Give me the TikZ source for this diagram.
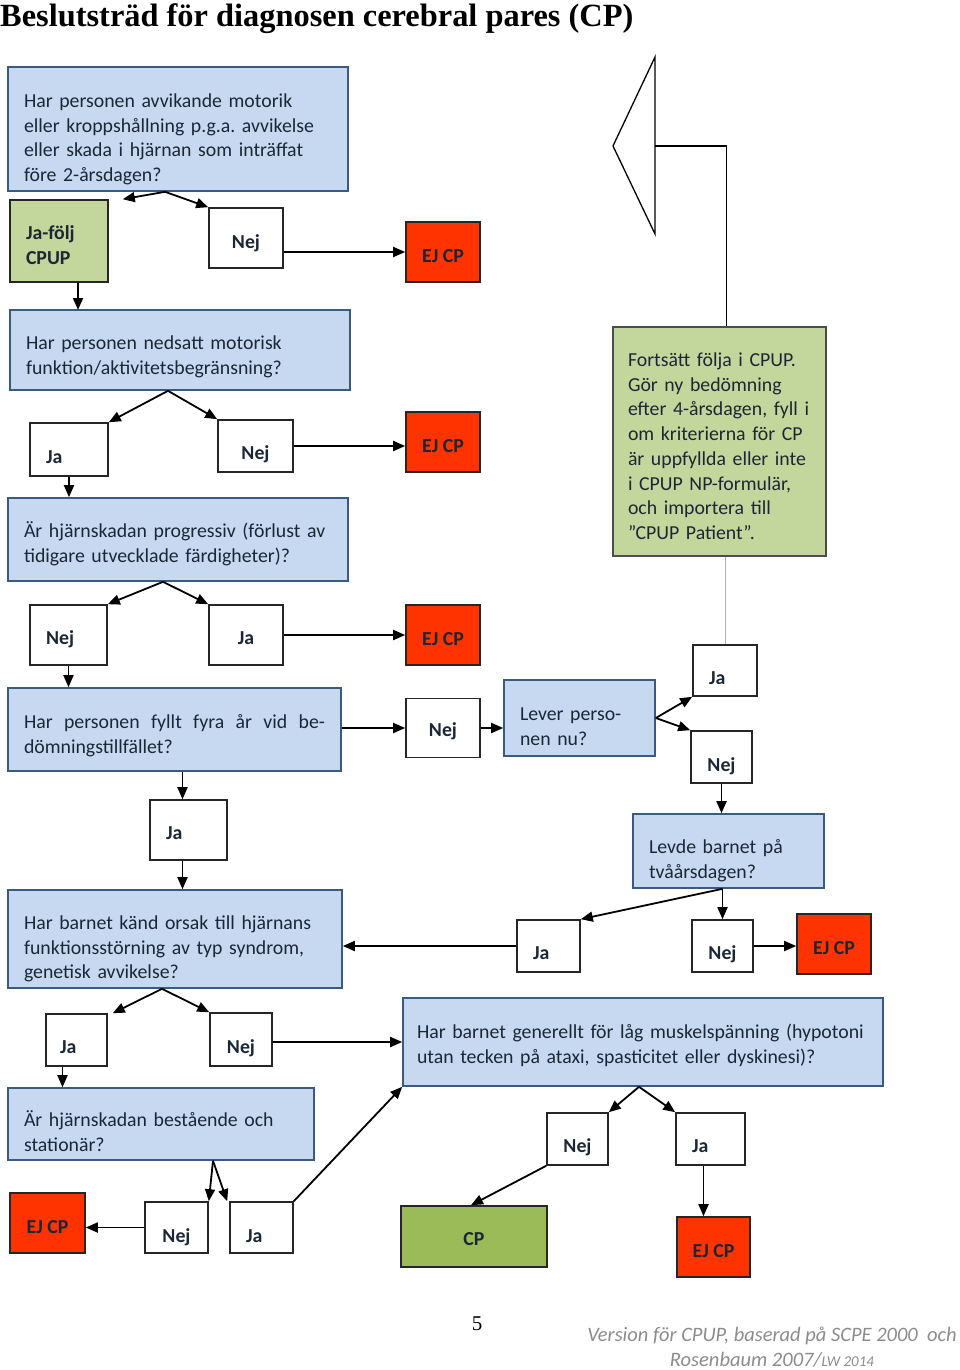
\documentclass[tikz,border=0pt]{standalone}
\usepackage{fontspec}
\setmainfont{Carlito}
\newfontfamily\titlefont{Liberation Serif}
\usetikzlibrary{arrows.meta}
\frenchspacing

\definecolor{qfill}{HTML}{C6D9F1}
\definecolor{qline}{HTML}{3A5A80}
\definecolor{ejfill}{HTML}{FF3300}
\definecolor{lightgreen}{HTML}{C3D69B}
\definecolor{cpgreen}{HTML}{9BBB59}
\definecolor{footgray}{HTML}{8C8C8C}
\definecolor{boxtext}{HTML}{1C2736}

\tikzset{
  base/.style={font=\fontsize{19.8}{24.7}\selectfont, text=boxtext, line width=1.6pt, inner sep=0pt},
  question/.style={base, draw=qline, fill=qfill, align=left, inner xsep=16pt, text height=10pt},
  answer/.style={base, draw=black!85, fill=white, font=\fontsize{19.8}{24.7}\selectfont\bfseries, text height=27pt, text depth=0pt},
  lefty/.style={align=left, inner xsep=16pt},
  ejcp/.style={answer, fill=ejfill, text height=20pt},
  conn/.style={-{Triangle[length=12pt,width=10pt]}, line width=1.8pt},
}

\begin{document}
\begin{tikzpicture}[x=1pt,y=-1pt]
      \useasboundingbox (0,0) rectangle (960,1370);
      % \draw[help lines,step=50](0,0) grid (960,1370);

      \node[anchor=base west, inner sep=0pt, font=\titlefont\fontsize{32.4}{36}\selectfont\bfseries] (title) at (0,27) {Beslutsträd för diagnosen cerebral pares (CP)};

      % first question
      \node[question, text width=308, minimum height=124, text depth=53pt] (q1) at (178,129) {Har personen avvikande motorik\\eller kroppshållning p.g.a. avvikelse\\eller skada i hjärnan som inträffat\\före 2-årsdagen?};
      \node[answer, lefty, fill=lightgreen, text width=66, minimum height=82, text height=13pt, text depth=16pt] (jafolj) at (59,241) {Ja-följ\\CPUP};
      \node[answer, minimum width=74, minimum height=60, text height=21pt] (nej1) at (246,238) {Nej};
      \node[ejcp, minimum width=74, minimum height=60] (ejcp1) at (443,252) {EJ CP};

      \draw[conn] ([xshift=-13]q1.south) -- ([xshift=14]jafolj.north east);
      \draw[conn] ([xshift=-13]q1.south) -- (nej1.north west);
      \draw[conn] (nej1.east |- ejcp1.west) -- (ejcp1.west);
      \draw[conn] ([xshift=19]jafolj.south) -- ([xshift=19]jafolj.south |- 0,310);

      % second question
      \node[question, text width=308, minimum height=80, text depth=11pt] (q2) at (180,350) {Har personen nedsatt motorisk\\funktion/aktivitetsbegränsning?};
      \node[answer, lefty, text width=46, minimum height=53] (ja2) at (69,449.5) {Ja};
      \node[answer, minimum width=75, minimum height=52] (nej2) at (255.5,446) {Nej};
      \node[ejcp, minimum width=74, minimum height=60] (ejcp2) at (443,442) {EJ CP};

      \draw[conn] ([xshift=-12]q2.south) -- (ja2.north east);
      \draw[conn] ([xshift=-12]q2.south) -- (nej2.north west);
      \draw[conn] (nej2.east) -- (nej2.east -| ejcp2.west);

      % third question
      \node[question, text width=308, minimum height=83, text depth=14pt] (q3) at (178,539.5) {Är hjärnskadan progressiv (förlust av\\tidigare utvecklade färdigheter)?};
      \draw[conn] (ja2.south) -- (ja2.south |- q3.north);

      \node[answer, lefty, text width=45, minimum height=60, text height=19pt] (nej3) at (68.5,635) {Nej};
      \node[answer, minimum width=74, minimum height=60, text height=19pt] (ja3) at (246,635) {Ja};
      \node[ejcp, minimum width=74, minimum height=60] (ejcp3) at (443,635) {EJ CP};

      \draw[conn] ([xshift=-15]q3.south) -- (nej3.north east);
      \draw[conn] ([xshift=-15]q3.south) -- (ja3.north west);
      \draw[conn] (ja3.east) -- (ejcp3.west);

      % fourth question
      \node[question, align=justify, text width=301, minimum height=83, text depth=12pt] (q4) at (174.5,729.5) {Har personen fyllt fyra år vid be-\linebreak dömningstillfället?};
      \draw[conn] (nej3.south) -- (nej3.south |- q4.north);

      \node[answer, minimum width=74, minimum height=59, text height=17pt] (nej4) at (443,728) {Nej};
      \node[question, text width=119, minimum height=76, text depth=5pt] (lever) at (579.5,718) {Lever perso-\\nen nu?};
      \node[answer, lefty, text width=32, minimum height=51] (jaL) at (725,670.5) {Ja};
      \node[answer, minimum width=61, minimum height=52, text height=29pt] (nejL) at (721.5,757) {Nej};

      \draw[conn] (q4.east |- nej4.west) -- (nej4.west);
      \draw[conn] (nej4.east) -- (nej4.east -| lever.west);
      \draw[conn] (lever.east) -- (jaL.south west);
      \draw[conn] (lever.east) -- (nejL.north west);

      % follow-up box
      \node[question, draw=black!70, fill=lightgreen, inner xsep=15pt, text width=183, minimum height=229, text depth=160pt] (green) at (719.5,441.5) {Fortsätt följa i CPUP.\\Gör ny bedömning\\efter 4-årsdagen, fyll i\\om kriterierna för CP\\är uppfyllda eller inte\\i CPUP NP-formulär,\\och importera till\\”CPUP Patient”.};
      \draw[black!30, line width=1pt] (jaL.north) -- (jaL.north |- green.south);

      \draw[line width=1.3pt] (655,57) -- (613,146) -- (655,234) -- cycle;
      \coordinate (tri) at (655,146);
      \draw[line width=1.3pt] (tri) -| ([xshift=7]green.north);

      % two years
      \node[question, text width=159, minimum height=74, text depth=5pt] (levde) at (728.5,851) {Levde barnet på\\tvåårsdagen?};
      \draw[conn] (nejL.south) -- (nejL.south |- levde.north);

      \node[answer, lefty, text width=31, minimum height=52] (jaV) at (548.5,946) {Ja};
      \node[answer, minimum width=61, minimum height=52] (nejV) at (722.5,946) {Nej};
      \node[ejcp, minimum width=74, minimum height=60] (ejcp4) at (834,944) {EJ CP};

      \draw[conn] ([xshift=-6]levde.south) -- (jaV.north east);
      \draw[conn] (nejV.north |- levde.south) -- (nejV.north);
      \draw[conn] (nejV.east) -- (nejV.east -| ejcp4.west);

      % known cause
      \node[answer, lefty, text width=45, minimum height=60, text height=19pt] (jaQ4) at (188.5,830) {Ja};
      \node[question, text width=302, minimum height=98, text depth=29pt] (q5) at (175,939) {Har barnet känd orsak till hjärnans\\funktionsstörning av typ syndrom,\\genetisk avvikelse?};

      \draw[conn] ([xshift=-6]jaQ4.north |- q4.south) -- ([xshift=-6]jaQ4.north);
      \draw[conn] ([xshift=-6]jaQ4.south) -- ([xshift=-6]jaQ4.south |- q5.north);
      \draw[conn] (jaV.west) -- (jaV.west -| q5.east);

      \node[answer, lefty, inner xsep=14pt, text width=33, minimum height=52] (ja5) at (76.5,1040) {Ja};
      \node[answer, minimum width=62, minimum height=53, text height=28pt] (nej5) at (241,1039.5) {Nej};
      \node[question, inner xsep=14pt, text width=452, minimum height=88, text depth=17pt] (q6) at (643,1042) {Har barnet generellt för låg muskelspänning (hypotoni\\utan tecken på ataxi, spasticitet eller dyskinesi)?};

      \draw[conn] ([xshift=-13]q5.south) -- ([xshift=5]ja5.north east);
      \draw[conn] ([xshift=-13]q5.south) -- (nej5.north west);
      \draw[conn] (nej5.east |- q6.west) -- (q6.west);

      % stationary
      \node[question, text width=274, minimum height=72, text depth=5pt] (q7) at (161,1124) {Är hjärnskadan bestående och\\stationär?};
      \draw[conn] ([xshift=-14]ja5.south) -- ([xshift=-14]ja5.south |- q7.north);

      \node[answer, minimum width=63, minimum height=51, text height=30pt] (nej7) at (176.5,1227.5) {Nej};
      \node[answer, lefty, text width=31, minimum height=51, text height=30pt] (ja7) at (261.5,1227.5) {Ja};
      \node[ejcp, minimum width=75, minimum height=60, text height=21pt] (ejcp5) at (47.5,1223) {EJ CP};

      \draw[conn] ([xshift=52]q7.south) -- (nej7.north east);
      \draw[conn] ([xshift=52]q7.south) -- ([xshift=-2]ja7.north west);
      \draw[conn] (nej7.west) -- (nej7.west -| ejcp5.east);
      \draw[conn] (ja7.north east) -- (q6.south west);

      % hypotonia
      \node[answer, minimum width=61, minimum height=52] (nej6) at (577.5,1139) {Nej};
      \node[answer, lefty, text width=37, minimum height=52] (ja6) at (710.5,1139) {Ja};
      \node[answer, fill=cpgreen, minimum width=146, minimum height=61, text height=18pt] (cp) at (474,1236.5) {CP};
      \node[ejcp, minimum width=73, minimum height=60] (ejcp6) at (713.5,1247) {EJ CP};

      \draw[conn] ([xshift=-4]q6.south) -- (nej6.north east);
      \draw[conn] ([xshift=-4]q6.south) -- (ja6.north west);
      \draw[conn] (nej6.south west) -- ([xshift=-3]cp.north);
      \draw[conn] ([xshift=-7]ja6.south) -- ([xshift=-7]ja6.south |- ejcp6.north);

      % page foot
      \node[font=\titlefont\fontsize{21}{24}\selectfont] (pagenum) at (477,1324) {5};
      \node[align=center, text=footgray, font=\itshape\fontsize{20.5}{25}\selectfont] (version) at (772,1347) {Version för CPUP, baserad på SCPE 2000~~och\\Rosenbaum 2007/{\fontsize{15}{18}\selectfont LW 2014}};
\end{tikzpicture}
\end{document}
